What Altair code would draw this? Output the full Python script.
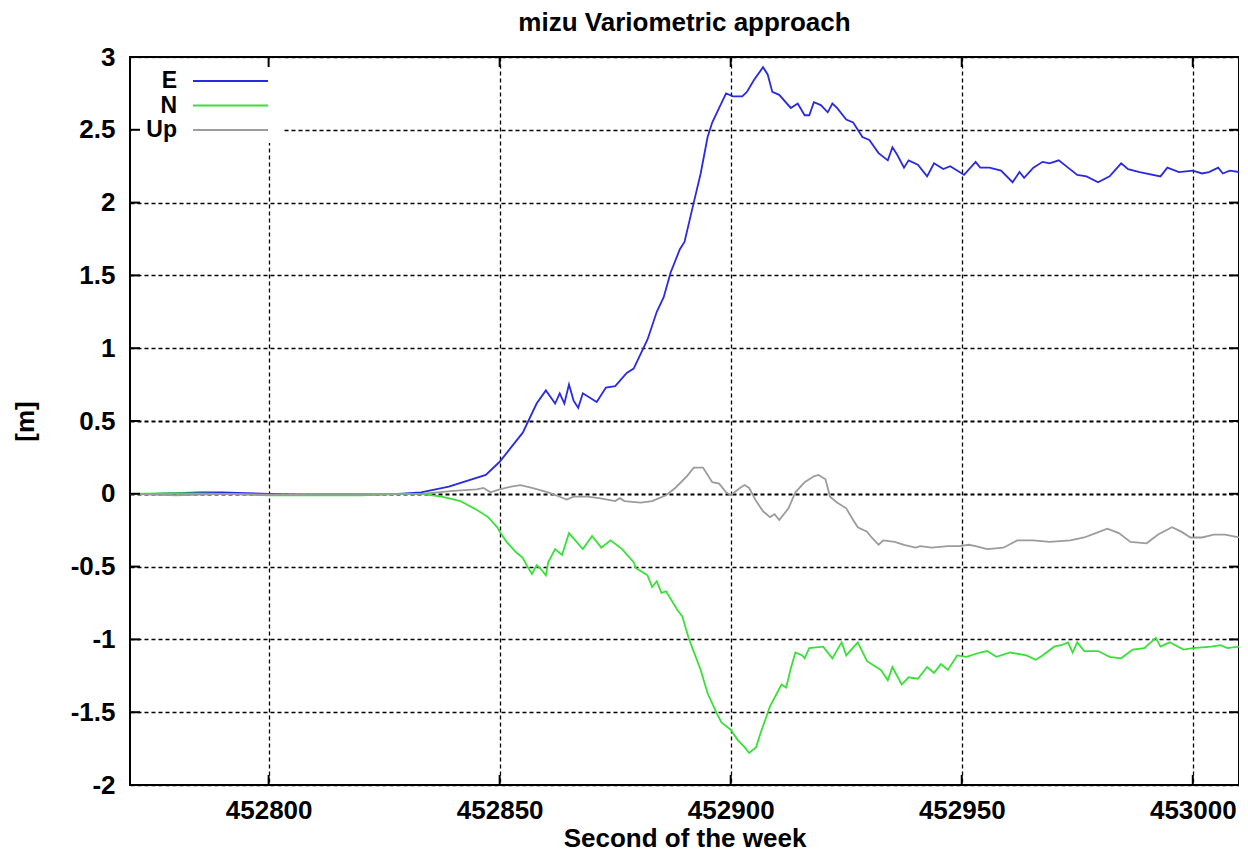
import altair as alt
import pandas as pd

# ---------------- data ----------------
e_t = [452770, 452775, 452780, 452785, 452790, 452795, 452800, 452810, 452820, 452828, 452833,
       452839, 452847, 452850, 452855, 452858, 452860, 452862, 452863, 452864, 452865, 452866,
       452867, 452868, 452871, 452873, 452875, 452877.5, 452879, 452882, 452884, 452885.5,
       452887, 452889, 452890, 452892, 452893.5, 452895, 452896, 452897.5, 452899, 452900.5,
       452902.5, 452903.5, 452905, 452907, 452908, 452909, 452910.5, 452913, 452914.5, 452916,
       452917, 452918, 452919.5, 452921, 452922, 452923, 452925, 452926.5, 452928.5, 452930,
       452932, 452934, 452935, 452936, 452937.5, 452938.5, 452940.5, 452942.5, 452944, 452946,
       452947.5, 452949, 452950.5, 452953, 452954, 452956, 452958.5, 452961, 452962.5, 452963.5,
       452965.5, 452967.5, 452969, 452971, 452973, 452975, 452977, 452979.5, 452982, 452984.5,
       452986, 452988.5, 452993, 452994.5, 452997, 453000, 453002, 453003.5, 453005.5, 453006.5,
       453008, 453010]
e_v = [0.0, 0.0, 0.005, 0.01, 0.01, 0.005, 0.0, -0.005, -0.005, 0.0, 0.01,
       0.05, 0.13, 0.22, 0.42, 0.62, 0.71, 0.62, 0.69, 0.62, 0.75, 0.64,
       0.59, 0.69, 0.63, 0.73, 0.74, 0.83, 0.86, 1.06, 1.25, 1.35,
       1.52, 1.68, 1.73, 2.0, 2.2, 2.45, 2.55, 2.65, 2.75, 2.73,
       2.73, 2.76, 2.84, 2.93, 2.88, 2.76, 2.74, 2.65, 2.68, 2.60,
       2.60, 2.69, 2.67, 2.62, 2.68, 2.65, 2.57, 2.55, 2.45, 2.43,
       2.34, 2.29, 2.38, 2.33, 2.24, 2.29, 2.26, 2.18, 2.27, 2.23,
       2.25, 2.22, 2.19, 2.28, 2.24, 2.24, 2.22, 2.14, 2.21, 2.17,
       2.24, 2.28, 2.27, 2.29, 2.24, 2.19, 2.18, 2.14, 2.18, 2.27,
       2.23, 2.21, 2.18, 2.24, 2.21, 2.22, 2.20, 2.21, 2.24, 2.20,
       2.22, 2.21]

n_t = [452770, 452780, 452790, 452800, 452810, 452820, 452830, 452833,
       452837.5, 452841.5, 452845, 452847.5, 452849.5, 452850, 452851.5, 452853.5, 452855,
       452856, 452857, 452858, 452859, 452860, 452860.5, 452862, 452863.5, 452865, 452868,
       452870, 452872, 452874, 452876.5, 452879, 452879.5, 452882, 452883, 452884, 452885,
       452886, 452888.5, 452889.5, 452891, 452893.5, 452895, 452897, 452898, 452900, 452901.5,
       452903, 452904, 452905.5, 452906.5, 452907.5, 452908.5, 452910, 452911, 452912, 452913,
       452914, 452915.5, 452916, 452917, 452920, 452922, 452924, 452925, 452927.5, 452929.5,
       452932.5, 452934, 452935, 452937, 452938.5, 452940.5, 452942.5, 452944, 452945.5, 452947,
       452949, 452951, 452954, 452955.5, 452957.5, 452960.5, 452964, 452966, 452967.5, 452970,
       452971.5, 452973, 452974, 452975, 452976.5, 452979.5, 452982, 452984.5, 452987, 452989.5,
       452992, 452993, 452995, 452998, 453000, 453004, 453006, 453007.5, 453010]
n_v = [0.0, 0.005, 0.0, -0.01, -0.01, -0.01, 0.0, 0.0,
       -0.02, -0.05, -0.11, -0.16, -0.23, -0.26, -0.33, -0.40, -0.44,
       -0.50, -0.55, -0.49, -0.52, -0.56, -0.47, -0.38, -0.42, -0.27, -0.38,
       -0.29, -0.37, -0.32, -0.38, -0.47, -0.51, -0.56, -0.64, -0.60, -0.68,
       -0.67, -0.80, -0.84, -1.0, -1.21, -1.37, -1.51, -1.57, -1.62, -1.69,
       -1.74, -1.78, -1.74, -1.64, -1.55, -1.46, -1.37, -1.31, -1.33, -1.20,
       -1.09, -1.11, -1.13, -1.06, -1.05, -1.13, -1.02, -1.11, -1.02, -1.15,
       -1.21, -1.28, -1.19, -1.31, -1.26, -1.27, -1.19, -1.23, -1.17, -1.21,
       -1.11, -1.12, -1.09, -1.08, -1.12, -1.09, -1.11, -1.14, -1.11, -1.05,
       -1.04, -1.02, -1.09, -1.02, -1.08, -1.08, -1.12, -1.13, -1.07, -1.06,
       -0.99, -1.05, -1.02, -1.07, -1.06, -1.05, -1.04, -1.06, -1.05]

u_t = [452770, 452780, 452790, 452800, 452810, 452820, 452830, 452833,
       452840, 452845, 452846.5, 452848, 452850, 452852.5, 452854.5, 452857, 452860.5, 452863,
       452864.5, 452866, 452869, 452871.5, 452875, 452876, 452877, 452880.5, 452883, 452886,
       452888, 452890.5, 452892, 452894, 452896, 452897.5, 452899, 452900, 452902, 452903,
       452904, 452905.5, 452907, 452908.5, 452909.5, 452910.5, 452912.5, 452914, 452916, 452918,
       452919, 452920.5, 452921.5, 452923, 452925, 452926.5, 452927.5, 452929.5, 452930.5, 452932,
       452933, 452935.5, 452937.5, 452940, 452941, 452943.5, 452947, 452949.5, 452951.5, 452953,
       452955.5, 452959, 452962, 452965.5, 452969, 452973.5, 452976.5, 452979, 452981.5, 452984,
       452986.5, 452990, 452992.5, 452995.5, 452997.5, 452999.5, 453002, 453004.5, 453007, 453010]
u_v = [0.0, -0.01, 0.0, -0.005, 0.0, 0.0, 0.0, 0.0,
       0.02, 0.03, 0.04, 0.01, 0.03, 0.05, 0.06, 0.04, 0.01, -0.02,
       -0.04, -0.02, -0.02, -0.03, -0.05, -0.03, -0.05, -0.06, -0.05, -0.01,
       0.04, 0.12, 0.18, 0.18, 0.08, 0.07, 0.01, -0.01, 0.04, 0.06,
       0.04, -0.05, -0.12, -0.16, -0.14, -0.18, -0.10, 0.01, 0.08, 0.12,
       0.13, 0.10, -0.02, -0.06, -0.10, -0.18, -0.23, -0.26, -0.30, -0.35,
       -0.32, -0.33, -0.35, -0.37, -0.36, -0.37, -0.36, -0.36, -0.35, -0.36,
       -0.38, -0.37, -0.32, -0.32, -0.33, -0.32, -0.30, -0.27, -0.24, -0.27,
       -0.33, -0.34, -0.28, -0.23, -0.26, -0.30, -0.30, -0.28, -0.28, -0.30]

series_names = ["E", "N", "Up"]
series_colors = ["#2a2ae0", "#38e038", "#9c9c9c"]
x_ticks = [452800, 452850, 452900, 452950, 453000]
y_ticks = [-2, -1.5, -1, -0.5, 0, 0.5, 1, 1.5, 2, 2.5, 3]
x_domain = [452770, 453010]
y_domain = [-2, 3]

# ---------------- build ----------------
W, H = 1109, 728
FONT = "Liberation Sans"
FS = 26
LFS = 23
TICK = 10

rows = []
for name, ts, vs in zip(series_names, [e_t, n_t, u_t], [e_v, n_v, u_v]):
    for t, v in zip(ts, vs):
        rows.append({"t": t, "v": v, "series": name})
df = pd.DataFrame(rows)

x_scale = alt.Scale(domain=x_domain, nice=False, zero=False)
y_scale = alt.Scale(domain=y_domain, nice=False, zero=False)

grid_w = {"condition": {"test": "datum.value == 0 || datum.value == 0.5", "value": 2.2}, "value": 1.3}

x_axis = alt.Axis(
    values=x_ticks, labelExpr="'' + datum.value", title="Second of the week",
    grid=True, gridColor="black", gridDash=[4, 3], gridWidth=1.3, gridOpacity=1,
    ticks=False, domain=False, labelFont=FONT, labelFontSize=FS, labelFontWeight="bold",
    labelColor="black", labelPadding=12, labelFlush=False,
    titleFont=FONT, titleFontSize=FS, titleFontWeight="bold", titleColor="black", titlePadding=2,
)
y_axis = alt.Axis(
    values=y_ticks, labelExpr="'' + datum.value", title="[m]",
    grid=True, gridColor="black", gridDash=[4, 3], gridWidth=grid_w, gridOpacity=1,
    ticks=False, domain=False, labelFont=FONT, labelFontSize=FS, labelFontWeight="bold",
    labelColor="black", labelPadding=15,
    titleFont=FONT, titleFontSize=FS, titleFontWeight="bold", titleColor="black", titlePadding=32,
)

lines = alt.Chart(df).mark_line(strokeWidth=1.8, clip=True).encode(
    x=alt.X("t:Q", scale=x_scale, axis=x_axis),
    y=alt.Y("v:Q", scale=y_scale, axis=y_axis),
    color=alt.Color("series:N", scale=alt.Scale(domain=series_names, range=series_colors), legend=None),
)

xt = pd.DataFrame({"t": x_ticks})
yt = pd.DataFrame({"v": y_ticks})
tick_bottom = alt.Chart(xt).mark_rule(color="black", strokeWidth=2).encode(
    x=alt.X("t:Q", scale=x_scale), y=alt.value(H), y2=alt.value(H - TICK))
tick_top = alt.Chart(xt).mark_rule(color="black", strokeWidth=2).encode(
    x=alt.X("t:Q", scale=x_scale), y=alt.value(0), y2=alt.value(TICK))
tick_left = alt.Chart(yt).mark_rule(color="black", strokeWidth=2).encode(
    y=alt.Y("v:Q", scale=y_scale), x=alt.value(0), x2=alt.value(TICK))
tick_right = alt.Chart(yt).mark_rule(color="black", strokeWidth=2).encode(
    y=alt.Y("v:Q", scale=y_scale), x=alt.value(W), x2=alt.value(W - TICK))

# legend box (white, hides grid like the original key)
legend_bg = alt.Chart(pd.DataFrame({"k": [0]})).mark_rect(color="white").encode(
    x=alt.value(1.5), x2=alt.value(152), y=alt.value(1.5), y2=alt.value(86))

legend_layers = []
for i, (name, col) in enumerate(zip(series_names, series_colors)):
    ly = 24 + 24.5 * i
    d = pd.DataFrame({"label": [name]})
    legend_layers.append(
        alt.Chart(d).mark_text(align="right", baseline="middle", font=FONT, fontSize=LFS,
                               fontWeight="bold", color="black").encode(
            x=alt.value(47), y=alt.value(ly), text="label:N"))
    legend_layers.append(
        alt.Chart(d).mark_rule(color=col, strokeWidth=1.8).encode(
            x=alt.value(63), x2=alt.value(138), y=alt.value(ly)))

chart = alt.layer(legend_bg, lines, tick_bottom, tick_top, tick_left, tick_right, *legend_layers).properties(
    width=W, height=H,
    title=alt.Title("mizu Variometric approach", font=FONT, fontSize=FS, fontWeight="bold",
                    color="black", anchor="middle", frame="group", offset=8),
    padding={"left": 122, "top": 49, "right": 0, "bottom": 67},
    autosize=alt.AutoSizeParams(type="none"),
    background="white",
).configure_view(stroke="black", strokeWidth=2)

chart.save("out.html", embed_options={"renderer": "svg", "actions": False})
